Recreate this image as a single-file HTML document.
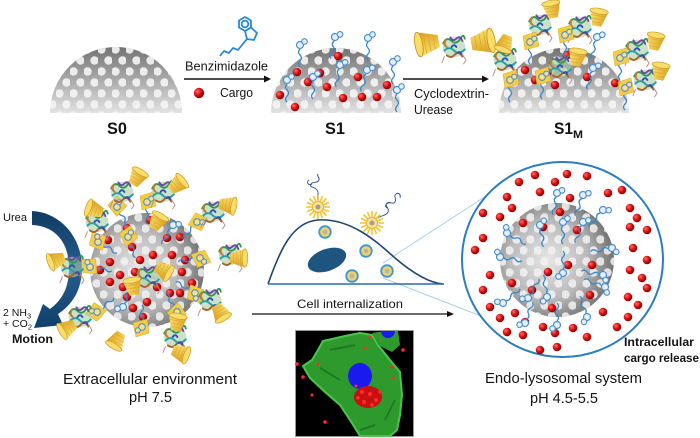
<!DOCTYPE html>
<html><head><meta charset="utf-8"><style>
html,body{margin:0;padding:0;background:#fff;}
svg{display:block;}
text{font-family:"Liberation Sans",sans-serif;fill:#141414;}
</style></head><body>
<svg width="700" height="438" viewBox="0 0 700 438" xmlns="http://www.w3.org/2000/svg">
<defs>
<linearGradient id="dome" x1="0" y1="0" x2="0" y2="1"><stop offset="0" stop-color="#737373"/><stop offset="1" stop-color="#e2e2e2"/></linearGradient>
<radialGradient id="sph" cx="0.42" cy="0.5" r="0.62"><stop offset="0" stop-color="#e6e6e6"/><stop offset="0.55" stop-color="#bababa"/><stop offset="1" stop-color="#666"/></radialGradient>
<radialGradient id="red" cx="0.35" cy="0.35" r="0.65"><stop offset="0" stop-color="#ff7070"/><stop offset="0.5" stop-color="#e01515"/><stop offset="1" stop-color="#8a0000"/></radialGradient>
<linearGradient id="gold" x1="0" y1="0" x2="0" y2="1"><stop offset="0" stop-color="#fbe070"/><stop offset="1" stop-color="#dca21e"/></linearGradient>
<linearGradient id="arr" x1="0" y1="0" x2="0" y2="1"><stop offset="0" stop-color="#0f3a62"/><stop offset=".5" stop-color="#265e8e"/><stop offset="1" stop-color="#0f3f6a"/></linearGradient>
<pattern id="holes" width="14" height="22" patternUnits="userSpaceOnUse"><circle cx="3.5" cy="5.5" r="4.2" fill="#f4f4f4" fill-opacity=".92"/><circle cx="10.5" cy="16.5" r="4.2" fill="#f4f4f4" fill-opacity=".92"/></pattern>
<pattern id="holes2" x="2" y="3" width="14" height="22" patternUnits="userSpaceOnUse"><circle cx="3.5" cy="5.5" r="4.2" fill="#f2f2f2" fill-opacity=".85"/><circle cx="10.5" cy="16.5" r="4.2" fill="#f2f2f2" fill-opacity=".85"/></pattern>
<g id="rd"><circle r="4.3" fill="url(#red)"/></g>
<g id="cn"><g transform="scale(1.15)"><polygon points="-7,-4 6,-8 6,8 -7,4" fill="url(#gold)"/><path d="M-4,-4.6 L-4,4.6 M-1,-5.6 L-1,5.6 M2,-6.6 L2,6.6" stroke="#d9a830" stroke-width=".5"/><ellipse cx="6" cy="0" rx="2.5" ry="8" fill="#f9dc6a" stroke="#c99a22" stroke-width=".6"/></g></g>
<g id="lk"><path d="M0,4 q-3,3 0,6 q3,3 0,6 q-3,3 0,6" stroke="#3a86c8" stroke-width="1.3" fill="none"/><circle cx="0" cy="0" r="3.5" fill="#e4effa" stroke="#4a8ed0" stroke-width="1.2"/><circle cx="4.5" cy="-3.5" r="2.8" fill="#e4effa" stroke="#4a8ed0" stroke-width="1.1"/></g>
<g id="lkc"><path d="M0,4 q-3,3 0,6 q3,3 0,6 q-3,3 0,6" stroke="#3a86c8" stroke-width="1.3" fill="none"/><polygon points="-7,-6 6,-10 9,4 -5,8" fill="#f5cd45" stroke="#d8a82c" stroke-width=".5"/><circle cx="0" cy="0" r="3.3" fill="#f8e08a" stroke="#4a8ed0" stroke-width="1.1"/><circle cx="4.3" cy="-3.3" r="2.6" fill="#f8e08a" stroke="#4a8ed0" stroke-width="1"/></g>
<g id="pr" fill="none" stroke-width="1.6" stroke-linecap="round"><g transform="scale(1.2)">
<ellipse rx="9.5" ry="8.5" fill="#a9cfa4" stroke="none" opacity=".6"/>
<path d="M-9,-3 q3,-6 7,-2 q4,4 8,-3 q2,-3 3,1" stroke="#2f9a4f"/>
<path d="M-8,3 q4,-4 8,0 q4,4 9,-1" stroke="#25a0a8"/>
<path d="M-6,7 q4,3 7,-1 q3,-3 6,2" stroke="#a8652a"/>
<path d="M-3,-8 q2,4 5,1 q3,-3 5,2" stroke="#7048a8"/>
<path d="M-7,-6 q-2,4 1,6" stroke="#c07a30"/>
<path d="M-2,0 q2,-3 4,0 M3,5 q2,-2 3,1" stroke="#3050b8"/>
<path d="M7,6 l3,5 l-2,3 M-8,8 l-2,5" stroke="#b89090" stroke-width=".8"/>
</g></g>
<g id="np"><g stroke="#f5c430" stroke-width="1.6"><path d="M-12,0 L12,0 M0,-12 L0,12 M-8.5,-8.5 L8.5,8.5 M-8.5,8.5 L8.5,-8.5 M-11,-4.5 L11,4.5 M-11,4.5 L11,-4.5 M-4.5,-11 L4.5,11 M4.5,-11 L-4.5,11"/></g><circle r="5.5" fill="#f3e2a8" stroke="#f0b820" stroke-width="1"/><circle r="2.5" fill="#a89a90"/></g>
<g id="ves"><circle r="5.8" fill="#f3d266" stroke="#3a96dc" stroke-width="1.8"/><circle r="2.4" fill="#bdb3a2"/></g>
</defs>

<!-- ===== TOP ROW ===== -->
<path d="M50,113 A66,66 0 0 1 182,113 Z" fill="url(#dome)"/>
<path d="M50,113 A66,66 0 0 1 182,113 Z" fill="url(#holes)"/>
<text x="107" y="134" font-size="17" font-weight="bold" textLength="20" lengthAdjust="spacingAndGlyphs">S0</text>

<g stroke="#2a8ad0" stroke-width="1.8" fill="none" stroke-linejoin="round">
<polygon points="245,17 251,20.5 251,27.5 245,31 239,27.5 239,20.5"/>
<circle cx="245" cy="24" r="3.3"/>
<polygon points="245,31 251,27.5 257,33 254,40 247,39"/>
<path d="M220,56 l4,-5 l5,2 l4,-5 l5,2 l4,-5 L247,39"/>
</g>
<text x="185" y="70.5" font-size="13" textLength="83" lengthAdjust="spacingAndGlyphs">Benzimidazole</text>
<line x1="184" y1="79" x2="265" y2="79" stroke="#111" stroke-width="1.5"/>
<polygon points="264,75.5 271,79 264,82.5" fill="#111"/>
<circle cx="199" cy="93" r="5.2" fill="url(#red)"/>
<text x="220" y="97" font-size="13" textLength="33" lengthAdjust="spacingAndGlyphs">Cargo</text>

<!-- S1 -->
<path d="M271,113 A65,65 0 0 1 401,113 Z" fill="url(#dome)"/>
<path d="M271,113 A65,65 0 0 1 401,113 Z" fill="url(#holes)"/>
<use href="#rd" x="338" y="56"/><use href="#rd" x="297" y="72"/><use href="#rd" x="320" y="73"/><use href="#rd" x="308" y="82"/><use href="#rd" x="327" y="87"/><use href="#rd" x="358" y="77"/><use href="#rd" x="387" y="85"/><use href="#rd" x="280" y="95"/><use href="#rd" x="343" y="98"/><use href="#rd" x="362" y="97"/><use href="#rd" x="377" y="97"/><use href="#rd" x="295" y="107"/>
<use href="#lk" transform="translate(300,45)"/>
<use href="#lk" transform="translate(335,37) rotate(10)"/>
<use href="#lk" transform="translate(368,38)"/>
<use href="#lk" transform="translate(287,80)"/>
<use href="#lk" transform="translate(313,77)"/>
<use href="#lk" transform="translate(340,65) rotate(10)"/>
<use href="#lk" transform="translate(367,70) rotate(15)"/>
<use href="#lk" transform="translate(393,62)"/>
<use href="#lk" transform="translate(397,90)"/>
<text x="325" y="134" font-size="17" font-weight="bold" textLength="20" lengthAdjust="spacingAndGlyphs">S1</text>

<use href="#cn" transform="translate(428,43) rotate(170) scale(1.35)"/>
<use href="#pr" transform="translate(454,47)"/>
<use href="#cn" transform="translate(482,42) rotate(-10) scale(1.35)"/>
<line x1="403" y1="79" x2="483" y2="79" stroke="#111" stroke-width="1.5"/>
<polygon points="482,75.5 489,79 482,82.5" fill="#111"/>
<text x="414" y="98" font-size="13" textLength="75" lengthAdjust="spacingAndGlyphs">Cyclodextrin-</text>
<text x="414" y="114" font-size="13" textLength="39" lengthAdjust="spacingAndGlyphs">Urease</text>

<!-- S1M -->
<path d="M499,113 A65,65 0 0 1 629,113 Z" fill="url(#dome)"/>
<path d="M499,113 A65,65 0 0 1 629,113 Z" fill="url(#holes)"/>
<use href="#rd" x="525" y="70"/><use href="#rd" x="535" y="80"/><use href="#rd" x="555" y="85"/><use href="#rd" x="567" y="55"/><use href="#rd" x="587" y="77"/><use href="#rd" x="615" y="83"/><use href="#rd" x="548" y="72"/>
<use href="#lk" transform="translate(597,37) rotate(15)"/>
<use href="#lk" transform="translate(593,68) rotate(15)"/>
<use href="#pr" transform="translate(540,25)"/>
<use href="#pr" transform="translate(580,27)"/>
<use href="#pr" transform="translate(505,60)"/>
<use href="#pr" transform="translate(560,67)"/>
<use href="#pr" transform="translate(637,50)"/>
<use href="#pr" transform="translate(645,80)"/>
<use href="#cn" transform="translate(552,10) rotate(-100)"/>
<use href="#cn" transform="translate(598,18) rotate(-80)"/>
<use href="#cn" transform="translate(505,43) rotate(110)"/>
<use href="#cn" transform="translate(577,58) rotate(-80)"/>
<use href="#cn" transform="translate(655,42) rotate(-80)"/>
<use href="#cn" transform="translate(660,72) rotate(-80)"/>
<use href="#lkc" transform="translate(530,42)"/>
<use href="#lkc" transform="translate(565,35)"/>
<use href="#lkc" transform="translate(510,80)"/>
<use href="#lkc" transform="translate(542,77)"/>
<use href="#lkc" transform="translate(620,58)"/>
<use href="#lkc" transform="translate(625,88)"/>
<text x="554" y="134" font-size="17" font-weight="bold" textLength="19" lengthAdjust="spacingAndGlyphs">S1</text>
<text x="573" y="138" font-size="11" font-weight="bold" textLength="10" lengthAdjust="spacingAndGlyphs">M</text>

<!-- ===== BOTTOM LEFT ===== -->
<path d="M32,211 C58,212 82,235 82,268 C82,290 72,305 58,314 L63,325 L34,328 L43,304 L50,309 C62,300 69,288 69,268 C69,242 55,226 32,225 Z" fill="url(#arr)"/>
<text x="3" y="221" font-size="11" textLength="24" lengthAdjust="spacingAndGlyphs">Urea</text>
<text x="3" y="316" font-size="10.5">2 NH<tspan font-size="7.5" dy="2.5">3</tspan></text>
<text x="3" y="327" font-size="10.5">+ CO<tspan font-size="7.5" dy="2.5">2</tspan></text>
<text x="12" y="343" font-size="12" font-weight="bold" textLength="41" lengthAdjust="spacingAndGlyphs">Motion</text>

<circle cx="147" cy="270" r="57" fill="url(#sph)"/>
<circle cx="147" cy="270" r="57" fill="url(#holes2)"/>
<g>
<use href="#rd" x="150" y="220"/><use href="#rd" x="127" y="228"/><use href="#rd" x="108" y="240"/><use href="#rd" x="167" y="238"/><use href="#rd" x="180" y="237"/><use href="#rd" x="132" y="247"/><use href="#rd" x="153" y="255"/><use href="#rd" x="172" y="255"/><use href="#rd" x="110" y="262"/><use href="#rd" x="140" y="260"/><use href="#rd" x="185" y="260"/><use href="#rd" x="120" y="275"/><use href="#rd" x="135" y="272"/><use href="#rd" x="182" y="272"/><use href="#rd" x="110" y="282"/><use href="#rd" x="123" y="287"/><use href="#rd" x="157" y="287"/><use href="#rd" x="170" y="293"/><use href="#rd" x="127" y="297"/><use href="#rd" x="147" y="302"/><use href="#rd" x="180" y="293"/><use href="#rd" x="133" y="308"/><use href="#rd" x="143" y="317"/><use href="#rd" x="192" y="283"/><use href="#rd" x="100" y="270"/><use href="#rd" x="163" y="267"/>
</g>
<use href="#lkc" transform="translate(117,207) rotate(-30)"/>
<use href="#lkc" transform="translate(147,202)"/>
<use href="#lkc" transform="translate(197,222) rotate(40)"/>
<use href="#lkc" transform="translate(98,242) rotate(-60)"/>
<use href="#lkc" transform="translate(128,237) rotate(-20)"/>
<use href="#lkc" transform="translate(90,267) rotate(-80)"/>
<use href="#lkc" transform="translate(200,258) rotate(80)"/>
<use href="#lkc" transform="translate(195,293) rotate(120)"/>
<use href="#lkc" transform="translate(97,312) rotate(-130)"/>
<use href="#lkc" transform="translate(142,327) rotate(180)"/>
<use href="#lkc" transform="translate(177,312) rotate(150)"/>
<use href="#lk" transform="translate(123,307) rotate(-160)"/>
<use href="#lk" transform="translate(173,225) rotate(30)"/>
<use href="#pr" transform="translate(122,192)"/>
<use href="#pr" transform="translate(163,192)"/>
<use href="#pr" transform="translate(213,212)"/>
<use href="#pr" transform="translate(97,222)"/>
<use href="#pr" transform="translate(230,255)"/>
<use href="#pr" transform="translate(72,267)"/>
<use href="#pr" transform="translate(148,277)"/>
<use href="#pr" transform="translate(210,300)"/>
<use href="#pr" transform="translate(80,317)"/>
<use href="#pr" transform="translate(175,337)"/>
<use href="#cn" transform="translate(137,178) rotate(-60)"/>
<use href="#cn" transform="translate(177,185) rotate(-40)"/>
<use href="#cn" transform="translate(227,205) rotate(10)"/>
<use href="#cn" transform="translate(95,210) rotate(200)"/>
<use href="#cn" transform="translate(157,222) rotate(-60)"/>
<use href="#cn" transform="translate(57,260) rotate(160)"/>
<use href="#cn" transform="translate(238,258) rotate(0)"/>
<use href="#cn" transform="translate(163,270) rotate(30)"/>
<use href="#cn" transform="translate(133,287) rotate(-100)"/>
<use href="#cn" transform="translate(220,312) rotate(60)"/>
<use href="#cn" transform="translate(68,328) rotate(150)"/>
<use href="#cn" transform="translate(177,323) rotate(-80)"/>
<use href="#cn" transform="translate(117,340) rotate(120)"/>
<use href="#cn" transform="translate(180,353) rotate(20)"/>

<text x="63" y="384" font-size="15" textLength="174" lengthAdjust="spacingAndGlyphs">Extracellular environment</text>
<text x="129" y="402" font-size="15" textLength="43" lengthAdjust="spacingAndGlyphs">pH 7.5</text>

<!-- ===== CELL ===== -->
<line x1="383" y1="263" x2="486" y2="196" stroke="#a8d0ec" stroke-width="1"/>
<line x1="383" y1="278" x2="486" y2="318" stroke="#a8d0ec" stroke-width="1"/>
<path d="M268,284 C280,250 292,222 318,220 C350,218 375,240 395,258 C415,275 430,283 443,284" fill="none" stroke="#1f4574" stroke-width="1.6"/>
<line x1="268" y1="284" x2="444" y2="284" stroke="#2a6ab0" stroke-width="1.6"/>
<ellipse cx="327" cy="260" rx="20" ry="11" transform="rotate(-20 327 260)" fill="#1e5580"/>
<use href="#ves" x="325" y="232"/><use href="#ves" x="366" y="251"/><use href="#ves" x="352" y="276"/><use href="#ves" x="387" y="271"/>
<path d="M318,200 c-2,-4 2,-6 -1,-10 c-3,-4 -8,-2 -6,-6 c2,-3 6,0 8,-4 c1,-3 -3,-4 -1,-6 M312,184 c-4,2 -6,-2 -3,-4" fill="none" stroke="#3a5aa0" stroke-width="1"/>
<path d="M378,218 c4,-3 8,-2 10,-6 c2,-4 -4,-6 -1,-9 c3,-2 6,2 8,-1 c2,-3 -2,-6 1,-8 c3,-2 5,1 4,4 M391,203 c-5,-1 -7,3 -4,5" fill="none" stroke="#3a5aa0" stroke-width="1"/>
<use href="#np" x="318" y="207"/><use href="#np" x="372" y="223"/>
<text x="297" y="308" font-size="12" textLength="106" lengthAdjust="spacingAndGlyphs">Cell internalization</text>
<line x1="252" y1="314" x2="448" y2="314" stroke="#111" stroke-width="1.3"/>
<polygon points="447,311 454,314 447,317" fill="#111"/>

<!-- microscopy -->
<rect x="295.5" y="330.5" width="118" height="106" fill="#000" stroke="#999" stroke-width="1"/>
<polygon points="323,341 345,336 360,333 372,335 378,345 390,360 400,372 402,395 400,415 397,430 390,436 360,436 350,420 340,405 325,392 310,378 303,366 312,360 318,350" fill="#2e9a2e" stroke="#4cc44c" stroke-width="2" stroke-linejoin="round"/>
<polygon points="372,333 385,331 398,331 400,345 392,352 380,346" fill="#2e9a2e"/>
<path d="M330,350 L355,345 M320,368 L340,380 M385,420 L395,400 M360,430 L375,425" stroke="#1f7a22" stroke-width="2"/>
<ellipse cx="360" cy="376" rx="12" ry="13" fill="#1a1aee"/>
<path d="M381,331 a7,7 0 0 0 14,0 Z" fill="#1a1aee"/>
<ellipse cx="368" cy="397" rx="14" ry="11" fill="#c81010"/>
<g fill="#ff2a2a"><circle cx="362" cy="392" r="2"/><circle cx="370" cy="394" r="2"/><circle cx="376" cy="400" r="2"/><circle cx="364" cy="402" r="2"/><circle cx="372" cy="405" r="1.8"/><circle cx="358" cy="398" r="1.8"/><circle cx="380" cy="392" r="1.6"/><circle cx="356" cy="386" r="1.5"/>
<circle cx="297" cy="364" r="1.8"/><circle cx="303" cy="377" r="1.8"/><circle cx="318" cy="364" r="1.5"/><circle cx="312" cy="395" r="1.5"/><circle cx="325" cy="422" r="1.8"/><circle cx="365" cy="348" r="1.5"/><circle cx="370" cy="337" r="1.5"/><circle cx="392" cy="367" r="1.6"/><circle cx="403" cy="350" r="1.8"/><circle cx="393" cy="378" r="1.5"/></g>

<!-- ===== ENDO-LYSOSOME ===== -->
<ellipse cx="562.5" cy="259.5" rx="100.5" ry="97.5" fill="#fff" stroke="#2b7cc0" stroke-width="2"/>
<circle cx="557" cy="260" r="57" fill="url(#sph)"/>
<circle cx="557" cy="260" r="57" fill="url(#holes2)"/>
<g>
<use href="#rd" x="519" y="182"/><use href="#rd" x="535" y="175"/><use href="#rd" x="555" y="182"/><use href="#rd" x="567" y="174"/><use href="#rd" x="587" y="176"/><use href="#rd" x="570" y="198"/><use href="#rd" x="540" y="192"/><use href="#rd" x="507" y="197"/><use href="#rd" x="500" y="217"/><use href="#rd" x="483" y="213"/><use href="#rd" x="512" y="208"/><use href="#rd" x="608" y="193"/><use href="#rd" x="622" y="190"/><use href="#rd" x="630" y="208"/><use href="#rd" x="637" y="218"/><use href="#rd" x="630" y="227"/><use href="#rd" x="647" y="230"/><use href="#rd" x="483" y="238"/><use href="#rd" x="475" y="250"/><use href="#rd" x="633" y="248"/><use href="#rd" x="647" y="260"/><use href="#rd" x="490" y="275"/><use href="#rd" x="630" y="270"/><use href="#rd" x="642" y="278"/><use href="#rd" x="647" y="288"/><use href="#rd" x="483" y="290"/><use href="#rd" x="628" y="297"/><use href="#rd" x="638" y="305"/><use href="#rd" x="500" y="318"/><use href="#rd" x="490" y="307"/><use href="#rd" x="628" y="317"/><use href="#rd" x="617" y="327"/><use href="#rd" x="507" y="332"/><use href="#rd" x="523" y="335"/><use href="#rd" x="543" y="327"/><use href="#rd" x="555" y="333"/><use href="#rd" x="573" y="328"/><use href="#rd" x="587" y="337"/><use href="#rd" x="540" y="350"/><use href="#rd" x="557" y="347"/><use href="#rd" x="525" y="322"/><use href="#rd" x="603" y="312"/><use href="#rd" x="515" y="313"/>
<use href="#rd" x="560" y="212"/><use href="#rd" x="577" y="230"/><use href="#rd" x="523" y="223"/><use href="#rd" x="543" y="227"/><use href="#rd" x="532" y="290"/><use href="#rd" x="548" y="272"/><use href="#rd" x="568" y="265"/><use href="#rd" x="592" y="265"/><use href="#rd" x="590" y="295"/><use href="#rd" x="552" y="308"/><use href="#rd" x="512" y="283"/>
</g>
<use href="#lk" transform="translate(557,193) rotate(10)"/>
<use href="#lk" transform="translate(583,195) rotate(20)"/>
<use href="#lk" transform="translate(603,210) rotate(40)"/>
<use href="#lk" transform="translate(540,225) rotate(-10)"/>
<use href="#lk" transform="translate(507,233) rotate(-60)"/>
<use href="#lk" transform="translate(563,222)"/>
<use href="#lk" transform="translate(583,222) rotate(20)"/>
<use href="#lk" transform="translate(612,248) rotate(80)"/>
<use href="#lk" transform="translate(500,257) rotate(-80)"/>
<use href="#lk" transform="translate(563,273) rotate(180)"/>
<use href="#lk" transform="translate(603,275) rotate(100)"/>
<use href="#lk" transform="translate(605,287) rotate(110)"/>
<use href="#lk" transform="translate(503,303) rotate(-130)"/>
<use href="#lk" transform="translate(528,298) rotate(-150)"/>
<use href="#lk" transform="translate(547,297) rotate(170)"/>
<use href="#lk" transform="translate(525,323) rotate(-160)"/>
<use href="#lk" transform="translate(557,325) rotate(180)"/>
<use href="#lk" transform="translate(587,317) rotate(160)"/>

<text x="624" y="346" font-size="11.5" font-weight="bold" textLength="70" lengthAdjust="spacingAndGlyphs">Intracellular</text>
<text x="624" y="362" font-size="11.5" font-weight="bold" textLength="75" lengthAdjust="spacingAndGlyphs">cargo release</text>
<text x="485" y="383" font-size="15" textLength="157" lengthAdjust="spacingAndGlyphs">Endo-lysosomal system</text>
<text x="530" y="403" font-size="15" textLength="68" lengthAdjust="spacingAndGlyphs">pH 4.5-5.5</text>
</svg>
</body></html>
